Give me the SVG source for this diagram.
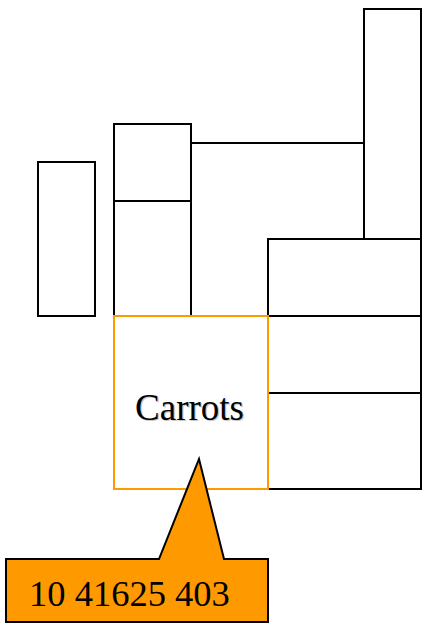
<svg xmlns="http://www.w3.org/2000/svg" width="422" height="625" viewBox="0 0 422 625">
  <style>
    .box { fill: #ffffff; stroke: #000000; stroke-width: 2; }
    .sel { fill: none; stroke: #ff9900; stroke-width: 2; }
    .wire { fill: none; stroke: #000000; stroke-width: 2; }
    .label { font-family: "Liberation Serif", "Times New Roman", serif; font-size: 37px; fill: #000000; }
    .shadow { font-family: "Liberation Serif", "Times New Roman", serif; font-size: 37px; fill: #c8c8c8; }
    .callout { fill: #ff9900; stroke: #000000; stroke-width: 2; stroke-linejoin: miter; }
    .num { font-family: "Liberation Serif", "Times New Roman", serif; font-size: 36.5px; fill: #000000; }
  </style>
  <rect width="422" height="625" fill="#ffffff"/>

  <g id="connectors">
    <line class="wire" x1="191" y1="143" x2="364" y2="143"/>
  </g>

  <g id="left-block">
    <rect class="box" x="38" y="162" width="57" height="154"/>
  </g>

  <g id="middle-upper">
    <rect class="box" x="114" y="124" width="77" height="77"/>
  </g>
  <g id="middle-lower">
    <rect class="box" x="114" y="201" width="77" height="115"/>
  </g>

  <g id="tall-block">
    <rect class="box" x="364" y="9" width="57" height="230"/>
  </g>

  <g id="right-1">
    <rect class="box" x="268" y="239" width="153" height="77"/>
  </g>
  <g id="right-2">
    <rect class="box" x="268" y="316" width="153" height="77"/>
  </g>
  <g id="right-3">
    <rect class="box" x="268" y="393" width="153" height="96"/>
  </g>

  <g id="carrots">
    <rect x="114" y="316" width="154" height="173" fill="#ffffff"/>
    <rect class="sel" x="114" y="316" width="154" height="173"/>
    <text class="shadow" x="190.8" y="420.8" text-anchor="middle">Carrots</text>
    <text class="label" x="189.5" y="420" text-anchor="middle">Carrots</text>
  </g>

  <g id="code-callout">
    <polygon class="callout" points="6,559 159,559 199,459 224,559 268,559 268,622 6,622"/>
    <text class="num" x="29" y="606">10 41625 403</text>
  </g>
</svg>
